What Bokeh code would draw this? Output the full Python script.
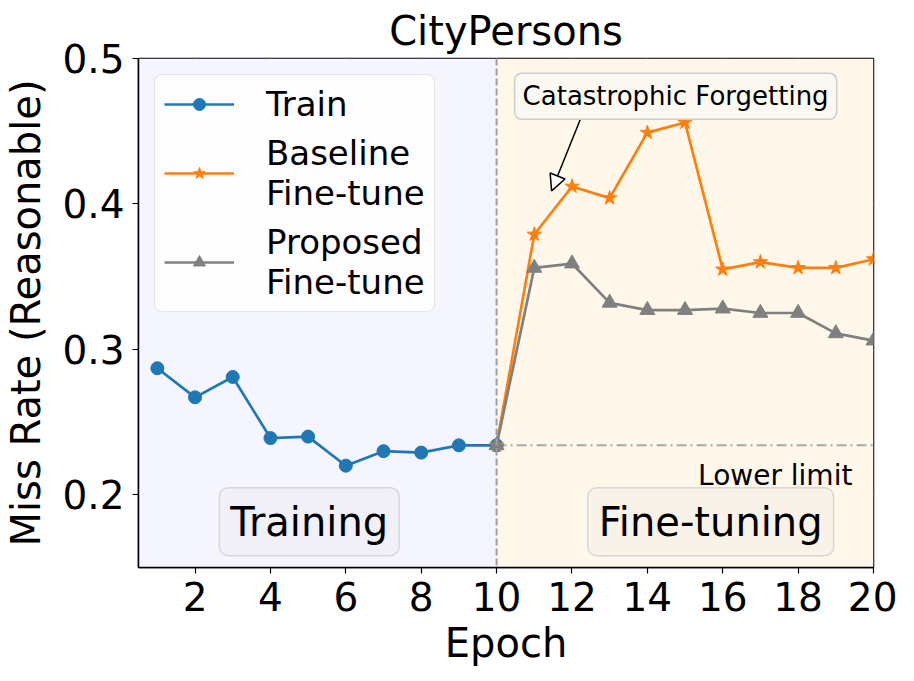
from bokeh.plotting import figure
from bokeh.models import (BoxAnnotation, Span, Label, Arrow, NormalHead, Legend,
                          LegendItem, FixedTicker, ColumnDataSource)
from bokeh.embed import file_html
from bokeh.resources import INLINE

# ---- data ----
train_epochs = [1, 2, 3, 4, 5, 6, 7, 8, 9, 10]
train_mr = [0.287, 0.267, 0.281, 0.239, 0.240, 0.220, 0.230, 0.229, 0.234, 0.234]

ft_epochs = [10, 11, 12, 13, 14, 15, 16, 17, 18, 19, 20]
baseline_mr = [0.234, 0.379, 0.412, 0.404, 0.449, 0.456, 0.355, 0.360, 0.356, 0.356, 0.362]
proposed_mr = [0.234, 0.356, 0.359, 0.332, 0.327, 0.327, 0.328, 0.325, 0.325, 0.311, 0.306]

x_ticks = [2, 4, 6, 8, 10, 12, 14, 16, 18, 20]
y_ticks = [0.2, 0.3, 0.4, 0.5]
lower_limit = train_mr[-1]
split_epoch = 10

FONT = "DejaVu Sans"

p = figure(frame_width=735, frame_height=509, x_range=(0.5, 20), y_range=(0.15, 0.5),
           output_backend="svg", toolbar_location=None,
           min_border_left=131, min_border_right=24, min_border_top=49, min_border_bottom=90,
           title="CityPersons", background_fill_color="white")

# backgrounds
p.add_layout(BoxAnnotation(right=split_epoch, fill_color="#f4f5fe", fill_alpha=1.0, line_color=None, level="underlay"))
p.add_layout(BoxAnnotation(left=split_epoch, fill_color="#fef7ea", fill_alpha=1.0, line_color=None, level="underlay"))

# title
p.title.text_font = FONT
p.title.text_font_size = "40px"
p.title.text_font_style = "normal"
p.title.align = "center"
p.title.text_color = "black"

# axes
for ax in (p.xaxis[0], p.yaxis[0]):
    ax.axis_label_text_font = FONT
    ax.axis_label_text_font_size = "40px"
    ax.axis_label_text_font_style = "normal"
    ax.major_label_text_font = FONT
    ax.major_label_text_font_size = "39px"
    ax.major_tick_out = 6
    ax.major_tick_in = 0
    ax.minor_tick_out = 0
    ax.minor_tick_in = 0
    ax.axis_line_color = "black"
    ax.axis_line_width = 1.5
    ax.major_tick_line_width = 1.2
    ax.major_label_text_color = "black"
    ax.axis_label_text_color = "black"

p.xaxis.axis_label = "Epoch"
p.yaxis.axis_label = "Miss Rate (Reasonable)"
p.xaxis.ticker = FixedTicker(ticks=x_ticks)
p.yaxis.ticker = FixedTicker(ticks=y_ticks)
p.xaxis.major_label_standoff = 8
p.yaxis.major_label_standoff = 8
p.xaxis.axis_label_standoff = 6
p.yaxis.axis_label_standoff = 10

p.outline_line_color = "black"
p.outline_line_width = 1.5
p.outline_line_alpha = 1.0

p.xgrid.ticker = FixedTicker(ticks=x_ticks)
p.ygrid.ticker = FixedTicker(ticks=y_ticks)
p.grid.grid_line_color = "#dcdcdc"
p.grid.grid_line_width = 1.2
p.grid.grid_line_alpha = 0.8

# split line and lower limit
p.add_layout(Span(location=split_epoch, dimension="height", line_color="#a0a0a0",
                  line_width=2, line_dash="7 3"))
p.line([ft_epochs[0], ft_epochs[-1]], [lower_limit, lower_limit], line_color="#a8a8a8",
       line_width=2, line_dash="10 4 2 4")

# series
train_src = ColumnDataSource(dict(x=train_epochs, y=train_mr))
base_src = ColumnDataSource(dict(x=ft_epochs, y=baseline_mr))
prop_src = ColumnDataSource(dict(x=ft_epochs, y=proposed_mr))

tl = p.line("x", "y", source=train_src, line_color="#1f77b4", line_width=2.7)
ts = p.scatter("x", "y", source=train_src, marker="circle", size=13, fill_color="#1f77b4", line_color="#1f77b4")
bl = p.line("x", "y", source=base_src, line_color="#ff7f0e", line_width=2.7)
bs = p.scatter("x", "y", source=base_src, marker="star", size=15, fill_color="#ff7f0e", line_color="#ff7f0e")
pl = p.line("x", "y", source=prop_src, line_color="#808080", line_width=2.7)
ps = p.scatter("x", "y", source=prop_src, marker="triangle", size=15, fill_color="#808080", line_color="#808080")

legend = Legend(items=[
    LegendItem(label="Train", renderers=[tl, ts]),
    LegendItem(label="Baseline\nFine-tune", renderers=[bl, bs]),
    LegendItem(label="Proposed\nFine-tune", renderers=[pl, ps]),
], location="top_left")
legend.label_text_font = FONT
legend.label_text_font_size = "34px"
legend.label_text_line_height = 1.05
legend.label_text_color = "black"
legend.glyph_width = 70
legend.glyph_height = 30
legend.label_standoff = 32
legend.spacing = 9
legend.padding = 9
legend.margin = 16
legend.border_line_color = "#cccccc"
legend.border_line_width = 1.5
legend.background_fill_color = "white"
legend.background_fill_alpha = 0.8
try:
    legend.border_radius = 8
except Exception:
    pass
p.add_layout(legend)

# phase labels
for txt, xx in (("Training", 5.03), ("Fine-tuning", 15.68)):
    p.add_layout(Label(x=xx, y=0.1815, text=txt, text_font=FONT, text_font_size="40px",
                       text_align="center", text_baseline="middle", text_color="black",
                       background_fill_color="#e6e4e6", background_fill_alpha=0.25,
                       border_line_color="#d8d6d8", border_line_width=1.5,
                       padding=11, border_radius=9))

p.add_layout(Label(x=19.44, y=0.213, text="Lower limit", text_font=FONT, text_font_size="28px",
                   text_align="right", text_baseline="middle", text_color="black"))

# catastrophic forgetting annotation
p.add_layout(Arrow(x_start=12.25, y_start=0.460, x_end=11.46, y_end=0.409,
                   line_color="black", line_width=1.5,
                   end=NormalHead(size=16, fill_color="white", line_color="black", line_width=1.5)))
p.add_layout(Label(x=14.75, y=0.474, text="Catastrophic Forgetting", text_font=FONT,
                   text_font_size="26px", text_align="center", text_baseline="middle",
                   text_color="black", background_fill_color="#fbf8f2", background_fill_alpha=1.0,
                   border_line_color="#cccccc", border_line_width=1.5, padding=8, border_radius=7))

open("out.html", "w").write(file_html(p, INLINE))
